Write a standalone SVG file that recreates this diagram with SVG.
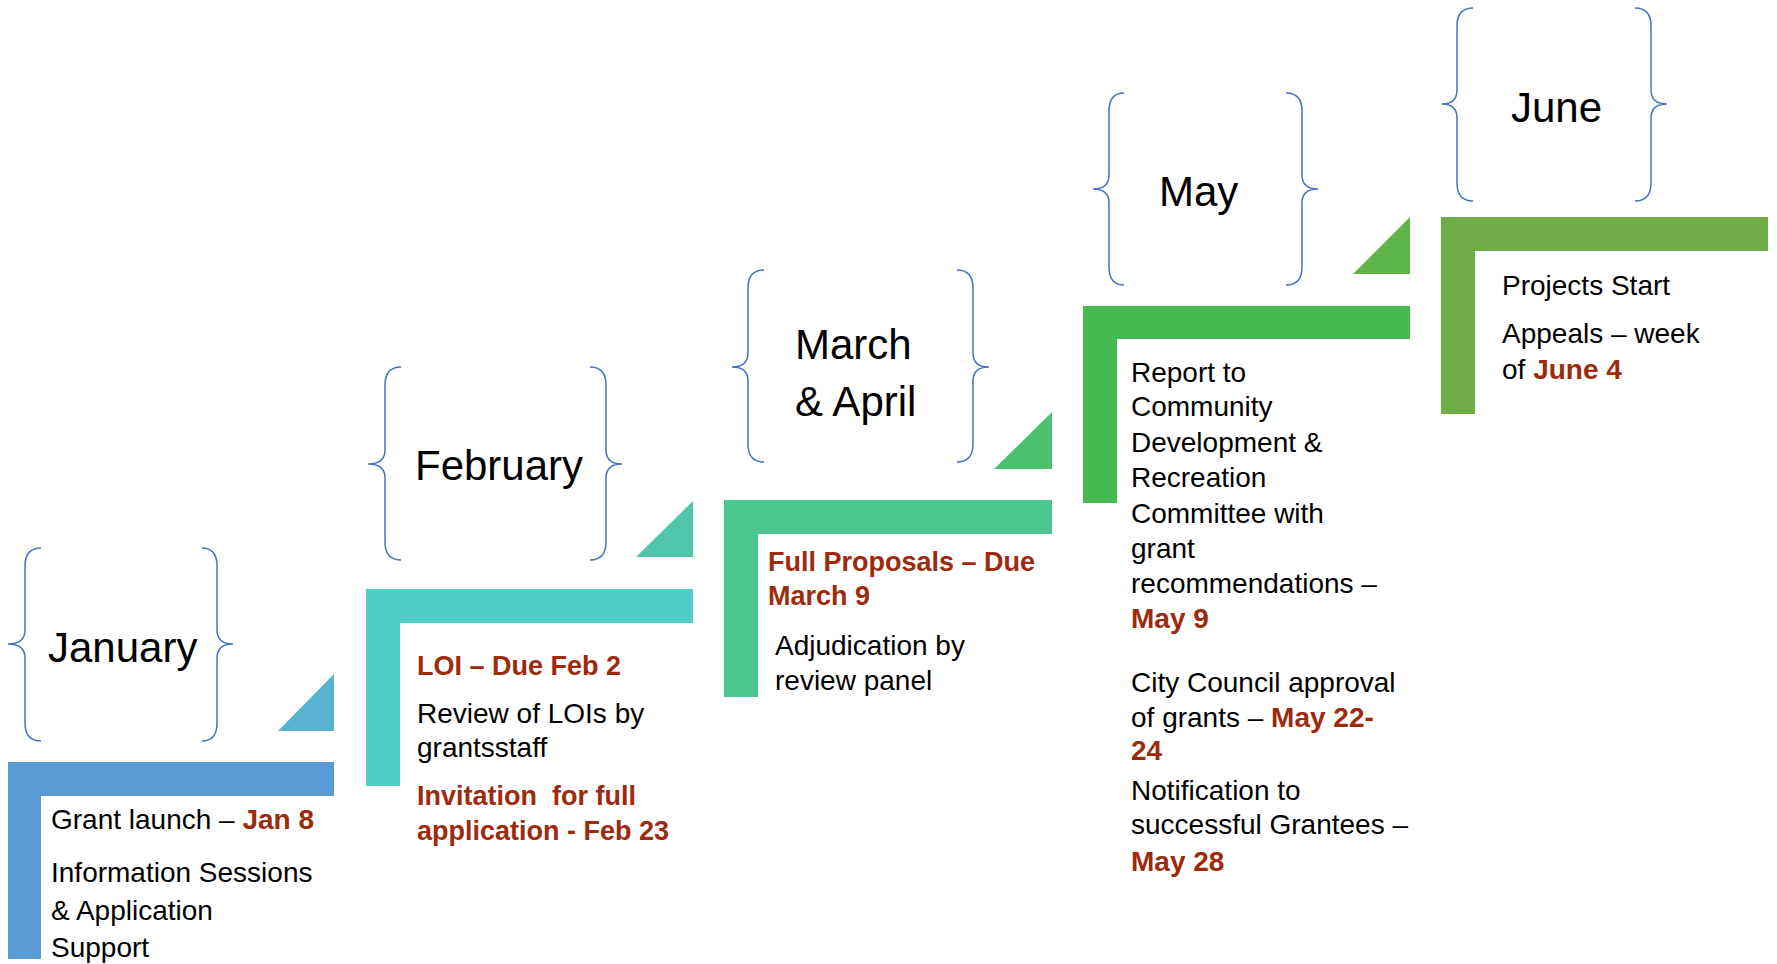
<svg xmlns="http://www.w3.org/2000/svg" width="1777" height="964" viewBox="0 0 1777 964">
<style>
.brace{fill:none;stroke:#4472C4;stroke-width:1.5}
.month{font-family:"Liberation Sans",Arial,sans-serif;font-size:42px;fill:#000}
.body{font-family:"Liberation Sans",Arial,sans-serif;font-size:28px;fill:#000}
.red{fill:#9E2A0C;font-weight:bold}
.b27{font-size:27px}
</style>
<rect width="1777" height="964" fill="#fff"/>
<g id="connectors">
<polygon points="278,731 334,731 334,674" fill="#57B3D0"/>
<polygon points="636,557 693,557 693,501" fill="#4FC6A9"/>
<polygon points="994,469 1052,469 1052,412" fill="#4BC16F"/>
<polygon points="1353,274 1410,274 1410,217" fill="#5DB647"/>
</g>
<g id="january">
<path class="brace" d="M41,548 Q25,548 25,566 L25,630 Q25,644 8,644 Q25,644 25,658 L25,723 Q25,741 41,741"/>
<path class="brace" d="M202,548 Q217,548 217,566 L217,630 Q217,644 233,644 Q217,644 217,658 L217,723 Q217,741 202,741"/>
<text class="month" x="48" y="662">January</text>
<path d="M8,762 H334 V796 H41 V959 H8 Z" fill="#5B9BD5"/>
<text class="body" x="51" y="829">Grant launch – <tspan class="red">Jan 8</tspan></text>
<text class="body" x="51" y="882">Information Sessions</text>
<text class="body" x="51" y="920">&amp; Application</text>
<text class="body" x="51" y="957">Support</text>
</g>
<g id="february">
<path class="brace" d="M401,367 Q385,367 385,385 L385,450 Q385,464 368,464 Q385,464 385,478 L385,542 Q385,560 401,560"/>
<path class="brace" d="M590,367 Q606,367 606,385 L606,450 Q606,464 622,464 Q606,464 606,478 L606,542 Q606,560 590,560"/>
<text class="month" x="415" y="480">February</text>
<path d="M366,589 H693 V623 H400 V786 H366 Z" fill="#52CBCB"/>
<text class="body red b27" x="417" y="675">LOI – Due Feb 2</text>
<text class="body" x="417" y="723">Review of LOIs by</text>
<text class="body" x="417" y="757">grantsstaff</text>
<text class="body red b27" x="417" y="805" xml:space="preserve">Invitation  for full</text>
<text class="body red b27" x="417" y="840">application - Feb 23</text>
</g>
<g id="march-april">
<path class="brace" d="M764,270 Q748,270 748,288 L748,353 Q748,367 732,367 Q748,367 748,381 L748,444 Q748,462 764,462"/>
<path class="brace" d="M957,270 Q973,270 973,288 L973,353 Q973,367 989,367 Q973,367 973,381 L973,444 Q973,462 957,462"/>
<text class="month" x="795" y="359">March</text>
<text class="month" x="795" y="416">&amp; April</text>
<path d="M724,500 H1052 V534 H758 V697 H724 Z" fill="#4EC68F"/>
<text class="body red b27" x="768" y="571">Full Proposals – Due</text>
<text class="body red b27" x="768" y="605">March 9</text>
<text class="body" x="775" y="655">Adjudication by</text>
<text class="body" x="775" y="690">review panel</text>
</g>
<g id="may">
<path class="brace" d="M1124,93 Q1109,93 1109,111 L1109,175 Q1109,189 1093,189 Q1109,189 1109,203 L1109,267 Q1109,285 1124,285"/>
<path class="brace" d="M1286,93 Q1302,93 1302,111 L1302,175 Q1302,189 1318,189 Q1302,189 1302,203 L1302,267 Q1302,285 1286,285"/>
<text class="month" x="1159" y="206">May</text>
<path d="M1083,306 H1410 V339 H1117 V503 H1083 Z" fill="#47B952"/>
<text class="body" x="1131" y="382">Report to</text>
<text class="body" x="1131" y="416">Community</text>
<text class="body" x="1131" y="452">Development &amp;</text>
<text class="body" x="1131" y="487">Recreation</text>
<text class="body" x="1131" y="523">Committee with</text>
<text class="body" x="1131" y="558">grant</text>
<text class="body" x="1131" y="593">recommendations –</text>
<text class="body red" x="1131" y="628">May 9</text>
<text class="body" x="1131" y="692">City Council approval</text>
<text class="body" x="1131" y="727">of grants – <tspan class="red">May 22-</tspan></text>
<text class="body red" x="1131" y="760">24</text>
<text class="body" x="1131" y="800">Notification to</text>
<text class="body" x="1131" y="834">successful Grantees –</text>
<text class="body red" x="1131" y="871">May 28</text>
</g>
<g id="june">
<path class="brace" d="M1473,8 Q1457,8 1457,26 L1457,90 Q1457,104 1442,104 Q1457,104 1457,118 L1457,183 Q1457,201 1473,201"/>
<path class="brace" d="M1635,8 Q1651,8 1651,26 L1651,90 Q1651,104 1667,104 Q1651,104 1651,118 L1651,183 Q1651,201 1635,201"/>
<text class="month" x="1511" y="122">June</text>
<path d="M1441,217 H1768 V251 H1475 V414 H1441 Z" fill="#70AD47"/>
<text class="body" x="1502" y="295">Projects Start</text>
<text class="body" x="1502" y="343">Appeals – week</text>
<text class="body" x="1502" y="379">of <tspan class="red">June 4</tspan></text>
</g>
</svg>
